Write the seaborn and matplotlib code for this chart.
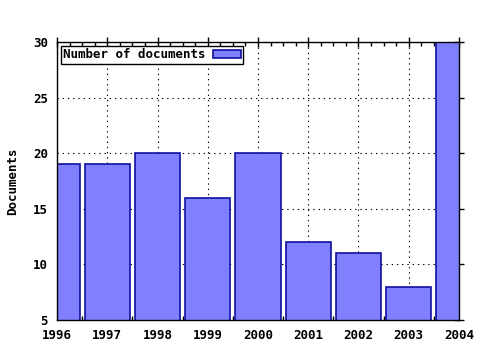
import matplotlib
matplotlib.use("Agg")
import matplotlib.pyplot as plt
from matplotlib.ticker import MultipleLocator
import seaborn as sns
import pandas as pd

years = ["1996", "1997", "1998", "1999", "2000", "2001", "2002", "2003", "2004"]
documents = [19, 19, 20, 16, 20, 12, 11, 8, 30]
series_label = "Number of documents"
y_label = "Documents"

sns.set_style("white")
plt.rcParams["font.family"] = ["DejaVu Sans Mono"]
plt.rcParams["font.weight"] = "bold"
plt.rcParams["text.color"] = "black"
plt.rcParams["axes.labelcolor"] = "black"
plt.rcParams["xtick.color"] = "black"
plt.rcParams["ytick.color"] = "black"

df = pd.DataFrame({"year": years, "documents": documents})

fig = plt.figure(figsize=(4.8, 3.5), dpi=100)
ax = fig.add_axes([0.119, 0.0857, 0.837, 0.7943])

sns.barplot(data=df, x="year", y="documents", order=years, width=0.9,
            color="#8080ff", saturation=1, edgecolor="#1010a0", linewidth=1.2,
            label=series_label, ax=ax, zorder=2)

ax.set_xlim(0, 8)
ax.set_ylim(5, 30)
ax.set_xticks(range(len(years)))
ax.set_xticklabels(years)
ax.xaxis.set_minor_locator(MultipleLocator(0.25))
ax.yaxis.set_major_locator(MultipleLocator(5))

ax.set_axisbelow(True)
ax.grid(True, which="major", color="black", linestyle=(0, (1.2, 3.5)), linewidth=0.8, zorder=0)

for s in ax.spines.values():
    s.set_color("black")
    s.set_linewidth(1.0)
    s.set_zorder(3)

ax.tick_params(axis="both", which="major", direction="inout", length=7, width=1,
               color="black", labelcolor="black", labelsize=9, pad=3, top=True, right=True)
ax.tick_params(axis="x", which="minor", direction="in", length=3, width=1,
               color="black", top=True, bottom=True)
for lab in ax.get_xticklabels() + ax.get_yticklabels():
    lab.set_fontweight("bold")
    lab.set_color("black")

ax.set_xlabel("")
ax.set_ylabel(y_label, fontsize=9, fontweight="bold", labelpad=10, color="black")

leg = ax.legend(loc="upper left", markerfirst=False, frameon=True, fancybox=False,
                framealpha=1, edgecolor="black", borderpad=0.2,
                handlelength=2.2, handleheight=0.6, handletextpad=0.6,
                borderaxespad=0.3, prop={"weight": "bold", "size": 9})
leg.get_frame().set_linewidth(1.0)
for t in leg.get_texts():
    t.set_color("black")

fig.savefig("out.png", dpi=100)
